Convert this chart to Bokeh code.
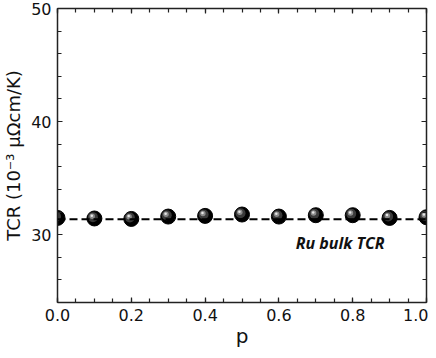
from bokeh.plotting import figure
from bokeh.models import ColumnDataSource, LinearAxis, Label, Span, FixedTicker, CustomJSTickFormatter
from bokeh.transform import dodge
from bokeh.embed import file_html
from bokeh.resources import INLINE

p_vals = [0.0, 0.1, 0.2, 0.3, 0.4, 0.5, 0.6, 0.7, 0.8, 0.9, 1.0]
tcr = [31.48, 31.43, 31.39, 31.60, 31.66, 31.78, 31.60, 31.72, 31.72, 31.48, 31.54]
bulk_tcr = 31.37
bulk_label = "Ru bulk TCR"
x_ticks = [0.0, 0.2, 0.4, 0.6, 0.8, 1.0]
x_minor = [i * 0.05 for i in range(21)]
y_ticks = [30, 40, 50]
y_minor = list(range(24, 51, 2))

src = ColumnDataSource(dict(x=p_vals, y=tcr))

p = figure(width=428, height=350, x_range=(0, 1), y_range=(24, 50),
           output_backend="svg", toolbar_location=None,
           min_border_left=40, min_border_right=2, min_border_top=8, min_border_bottom=0)
p.grid.visible = False
p.outline_line_color = None
p.background_fill_color = "white"
p.border_fill_color = "white"

def style(ax, labels=True):
    ax.axis_line_color = "#222222"
    ax.axis_line_width = 1.5
    ax.major_tick_line_color = "#222222"
    ax.minor_tick_line_color = "#222222"
    ax.major_tick_line_width = 1.2
    ax.minor_tick_line_width = 1.2
    ax.major_tick_in = 5
    ax.major_tick_out = 0
    ax.minor_tick_in = 4
    ax.minor_tick_out = 0
    if labels:
        ax.major_label_text_font = "DejaVu Sans"
        ax.major_label_text_font_size = "16px"
        ax.major_label_text_color = "#111111"
        ax.axis_label_text_font = "DejaVu Sans"
        ax.axis_label_text_font_style = "normal"
        ax.axis_label_text_color = "#111111"
    else:
        ax.formatter = CustomJSTickFormatter(code="return ''")
        ax.major_label_text_font_size = "1px"
        ax.major_label_standoff = 0

xa = p.xaxis[0]
ya = p.yaxis[0]
style(xa)
style(ya)
xa.ticker = FixedTicker(ticks=x_ticks, minor_ticks=x_minor)
ya.ticker = FixedTicker(ticks=y_ticks, minor_ticks=y_minor)
xa.major_label_overrides = {v: f"{v:.1f}" for v in x_ticks}
xa.axis_label = "p"
xa.axis_label_text_font_size = "20px"
xa.axis_label_standoff = 0
xa.major_label_standoff = 6
ya.axis_label = "TCR (10\u207b\u00b3 \u03bc\u03a9cm/K)"
ya.axis_label_text_font_size = "18px"
ya.axis_label_standoff = 4
ya.major_label_standoff = 6

top = LinearAxis(ticker=FixedTicker(ticks=x_ticks, minor_ticks=x_minor))
right = LinearAxis(ticker=FixedTicker(ticks=y_ticks, minor_ticks=y_minor))
style(top, labels=False)
style(right, labels=False)
p.add_layout(top, "above")
p.add_layout(right, "right")

p.add_layout(Span(location=bulk_tcr, dimension="width", line_color="black",
                  line_width=2, line_dash="8 4"))

p.scatter("x", "y", source=src, size=15, fill_color="black", line_color="black")
p.scatter(dodge("x", -0.004, range=p.x_range), dodge("y", 0.12, range=p.y_range),
          source=src, size=10, fill_color="#3a3a3a", line_color=None)
p.scatter(dodge("x", -0.006, range=p.x_range), dodge("y", 0.2, range=p.y_range),
          source=src, size=5.5, fill_color="#8a8a8a", line_color=None)
p.scatter(dodge("x", -0.007, range=p.x_range), dodge("y", 0.25, range=p.y_range),
          source=src, size=2.5, fill_color="#e6e6e6", line_color=None)

p.add_layout(Label(x=0.766, y=29.3, text=bulk_label, text_font="Open Sans",
                   text_font_style="bold italic", text_font_size="16px",
                   text_align="center", text_baseline="middle", text_color="#111111"))

open("out.html", "w").write(file_html(p, INLINE))
